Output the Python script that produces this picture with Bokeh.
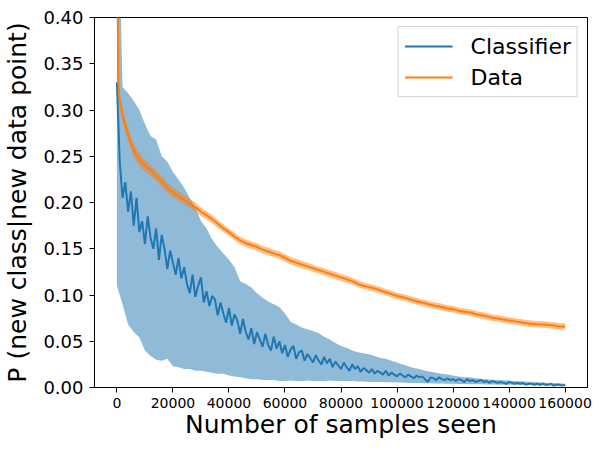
import numpy as np
from bokeh.plotting import figure
from bokeh.models import (Range1d, SingleIntervalTicker, NumeralTickFormatter,
                          Legend, LegendItem)
from bokeh.embed import file_html
from bokeh.resources import INLINE

# ---------------- data ----------------
# Classifier mean, one value per 1000 samples (0 .. 160000)
clf_x = list(range(0, 160001, 1000))
clf_mean = [
    0.330, 0.245, 0.205, 0.222, 0.190, 0.212, 0.175, 0.205, 0.168, 0.180,
    0.155, 0.185, 0.162, 0.150, 0.172, 0.138, 0.165, 0.150, 0.128, 0.148,
    0.135, 0.122, 0.140, 0.118, 0.130, 0.112, 0.102, 0.122, 0.098, 0.110,
    0.119, 0.092, 0.104, 0.088, 0.099, 0.095, 0.078, 0.092, 0.080, 0.070,
    0.086, 0.067, 0.079, 0.072, 0.058, 0.074, 0.060, 0.052, 0.064, 0.047,
    0.060, 0.052, 0.044, 0.058, 0.046, 0.040, 0.055, 0.042, 0.050, 0.037,
    0.046, 0.033, 0.041, 0.045, 0.031, 0.038, 0.040, 0.029, 0.036, 0.032,
    0.027, 0.035, 0.029, 0.025, 0.033, 0.026, 0.031, 0.022, 0.028, 0.024,
    0.020, 0.027, 0.022, 0.018, 0.025, 0.020, 0.023, 0.017, 0.021, 0.019,
    0.016, 0.020, 0.015, 0.018, 0.016, 0.014, 0.018, 0.013, 0.016, 0.014,
    0.012, 0.015, 0.013, 0.011, 0.014, 0.012, 0.010, 0.013, 0.011, 0.012,
    0.009, 0.006, 0.011, 0.010, 0.008, 0.011, 0.009, 0.008, 0.010, 0.008,
    0.009, 0.007, 0.009, 0.008, 0.006, 0.009, 0.007, 0.008, 0.006, 0.007,
    0.008, 0.006, 0.007, 0.005, 0.007, 0.006, 0.005, 0.006, 0.005, 0.004,
    0.006, 0.005, 0.004, 0.005, 0.004, 0.005, 0.003, 0.004, 0.004, 0.003,
    0.004, 0.003, 0.004, 0.003, 0.003, 0.004, 0.002, 0.003, 0.003, 0.002,
    0.003,
]

# Classifier spread band, one value per 2000 samples
band_x = list(range(0, 160001, 2000))
clf_upper = [
    0.600, 0.325, 0.318, 0.310, 0.300, 0.285, 0.272, 0.268, 0.250, 0.244,
    0.233, 0.225, 0.216, 0.205, 0.195, 0.180, 0.172, 0.160, 0.152, 0.145,
    0.138, 0.130, 0.115, 0.112, 0.108, 0.102, 0.097, 0.093, 0.090, 0.087,
    0.080, 0.071, 0.068, 0.065, 0.063, 0.061, 0.059, 0.055, 0.052, 0.048,
    0.045, 0.043, 0.040, 0.038, 0.037, 0.036, 0.034, 0.032, 0.031, 0.029,
    0.027, 0.025, 0.023, 0.021, 0.020, 0.018, 0.017, 0.016, 0.015, 0.014,
    0.013, 0.012, 0.011, 0.011, 0.010, 0.0095, 0.009, 0.0085, 0.008, 0.0078,
    0.0075, 0.007, 0.0068, 0.0065, 0.006, 0.0058, 0.0055, 0.005, 0.0048, 0.0045,
    0.004,
]
clf_lower = [
    0.110, 0.090, 0.068, 0.060, 0.054, 0.040, 0.034, 0.030, 0.029, 0.031,
    0.023, 0.022, 0.020, 0.020, 0.018, 0.018, 0.017, 0.016, 0.015, 0.015,
    0.013, 0.012, 0.011, 0.010, 0.009, 0.009, 0.008, 0.008, 0.008, 0.007,
    0.007, 0.0075, 0.007, 0.007, 0.0075, 0.007, 0.007, 0.0068, 0.0075, 0.007,
    0.007, 0.0068, 0.007, 0.0065, 0.0065, 0.006, 0.006, 0.006, 0.0058, 0.0056,
    0.0055, 0.0053, 0.005, 0.005, 0.0048, 0.0046, 0.0045, 0.0044, 0.0042, 0.004,
    0.004, 0.0038, 0.0037, 0.0036, 0.0035, 0.0034, 0.0033, 0.0032, 0.0031, 0.003,
    0.003, 0.0029, 0.0028, 0.0027, 0.0026, 0.0025, 0.0024, 0.0023, 0.0022, 0.0021,
    0.002,
]

# Data mean and its half-width
data_x = [0, 500, 1000, 2000, 3000, 4000, 5000, 6000, 7000, 8000, 9000, 10000,
          12000, 14000, 16000, 18000, 20000, 22000, 24000, 26000, 28000, 30000,
          32000, 34000, 36000, 38000, 40000, 42000, 44000, 46000, 48000, 50000,
          52000, 54000, 56000, 58000, 60000, 62000, 64000, 66000, 68000, 70000,
          72000, 74000, 76000, 78000, 80000, 82000, 84000, 86000, 88000, 90000,
          92000, 94000, 96000, 98000, 100000, 102000, 104000, 106000, 108000,
          110000, 112000, 114000, 116000, 118000, 120000, 122000, 124000,
          126000, 128000, 130000, 132000, 134000, 136000, 138000, 140000,
          142000, 144000, 146000, 148000, 150000, 152000, 154000, 156000,
          158000, 160000]
data_mean = [0.550, 0.330, 0.310, 0.295, 0.283, 0.274, 0.264, 0.257, 0.251,
             0.247, 0.243, 0.240, 0.235, 0.229, 0.223, 0.216, 0.211, 0.207,
             0.203, 0.199, 0.195, 0.190, 0.186, 0.182, 0.177, 0.172, 0.168,
             0.163, 0.159, 0.156, 0.154, 0.152, 0.149, 0.147, 0.145, 0.143,
             0.140, 0.137, 0.135, 0.133, 0.131, 0.129, 0.127, 0.125, 0.123,
             0.121, 0.119, 0.117, 0.115, 0.112, 0.110, 0.1085, 0.107, 0.105,
             0.103, 0.101, 0.099, 0.0975, 0.096, 0.094, 0.0925, 0.091, 0.0895,
             0.088, 0.087, 0.0855, 0.0845, 0.083, 0.082, 0.081, 0.0795, 0.078,
             0.077, 0.0755, 0.0745, 0.0735, 0.0725, 0.0715, 0.0705, 0.0695,
             0.069, 0.0685, 0.068, 0.0675, 0.067, 0.066, 0.066]
data_halfwidth = [0.010, 0.009, 0.009, 0.008, 0.008, 0.008, 0.007, 0.007, 0.007,
                  0.007, 0.0065, 0.0065, 0.006, 0.006, 0.006, 0.006, 0.0055, 0.0055,
                  0.005, 0.005, 0.005, 0.0045, 0.0045, 0.0045, 0.0042, 0.0042, 0.004,
                  0.004, 0.004, 0.004, 0.004, 0.004, 0.004, 0.004, 0.004, 0.004,
                  0.004, 0.004, 0.004, 0.004, 0.0038, 0.0038, 0.0038, 0.0038, 0.0038,
                  0.0038, 0.0038, 0.0038, 0.0036, 0.0036, 0.0036, 0.0036, 0.0036,
                  0.0036, 0.0036, 0.0036, 0.0035, 0.0035, 0.0035, 0.0035, 0.0035,
                  0.0035, 0.0035, 0.0035, 0.0035, 0.0035, 0.0035, 0.0035, 0.0035,
                  0.0035, 0.0035, 0.0035, 0.0035, 0.0035, 0.0035, 0.0035, 0.0035,
                  0.0035, 0.0035, 0.0035, 0.0035, 0.0035, 0.0035, 0.0035, 0.0035,
                  0.0035, 0.0035]

x_label = "Number of samples seen"
y_label = "P (new class|new data point)"
series_names = ["Classifier", "Data"]

BLUE = "#1f77b4"
ORANGE = "#ff7f0e"
FONT = "DejaVu Sans"

# ---------------- figure ----------------
p = figure(width=600, height=446, output_backend="svg", toolbar_location=None,
           x_range=Range1d(-8000, 168000), y_range=Range1d(0, 0.4),
           min_border_left=94, min_border_right=13, min_border_top=17,
           min_border_bottom=59)
p.background_fill_color = "white"
p.border_fill_color = "white"
p.outline_line_color = "black"
p.outline_line_width = 1
p.outline_line_alpha = 1
p.xgrid.visible = False
p.ygrid.visible = False

# Classifier
l_clf = p.line(clf_x, clf_mean, line_color=BLUE, line_width=2)
p.varea(x=band_x, y1=clf_lower, y2=clf_upper, fill_color=BLUE, fill_alpha=0.5)

# Data
dm = np.array(data_mean)
dh = np.array(data_halfwidth)
l_data = p.line(data_x, data_mean, line_color=ORANGE, line_width=2)
p.varea(x=data_x, y1=dm - dh, y2=dm + dh, fill_color=ORANGE, fill_alpha=0.5)

# axes
p.xaxis.ticker = SingleIntervalTicker(interval=20000, num_minor_ticks=0)
p.xaxis.formatter = NumeralTickFormatter(format="0")
p.yaxis.ticker = SingleIntervalTicker(interval=0.05, num_minor_ticks=0)
p.yaxis.formatter = NumeralTickFormatter(format="0.00")
for ax in (p.xaxis[0], p.yaxis[0]):
    ax.axis_line_color = "black"
    ax.major_tick_line_color = "black"
    ax.major_tick_out = 5
    ax.major_tick_in = 0
    ax.minor_tick_out = 0
    ax.minor_tick_in = 0
    ax.major_label_text_font = FONT
    ax.major_label_text_color = "black"
    ax.axis_label_text_font = FONT
    ax.axis_label_text_font_style = "normal"
    ax.axis_label_text_font_size = "25px"
    ax.axis_label_text_color = "black"
p.xaxis.major_label_text_font_size = "14px"
p.yaxis.major_label_text_font_size = "18px"
p.xaxis.major_label_standoff = 5
p.yaxis.major_label_standoff = 6
p.xaxis.axis_label = x_label
p.yaxis.axis_label = y_label
p.xaxis.axis_label_standoff = -1
p.yaxis.axis_label_standoff = 8

legend = Legend(items=[LegendItem(label=series_names[0], renderers=[l_clf]),
                       LegendItem(label=series_names[1], renderers=[l_data])],
                location="top_right", margin=9)
legend.label_text_font = FONT
legend.label_text_font_size = "22px"
legend.label_text_color = "black"
legend.glyph_width = 48
legend.glyph_height = 26
legend.label_height = 26
legend.label_standoff = 18
legend.padding = 6
legend.spacing = 5
legend.border_line_color = "#b0b0b0"
legend.border_line_width = 1
legend.background_fill_alpha = 0.8
p.add_layout(legend)

open("out.html", "w").write(file_html(p, INLINE))
